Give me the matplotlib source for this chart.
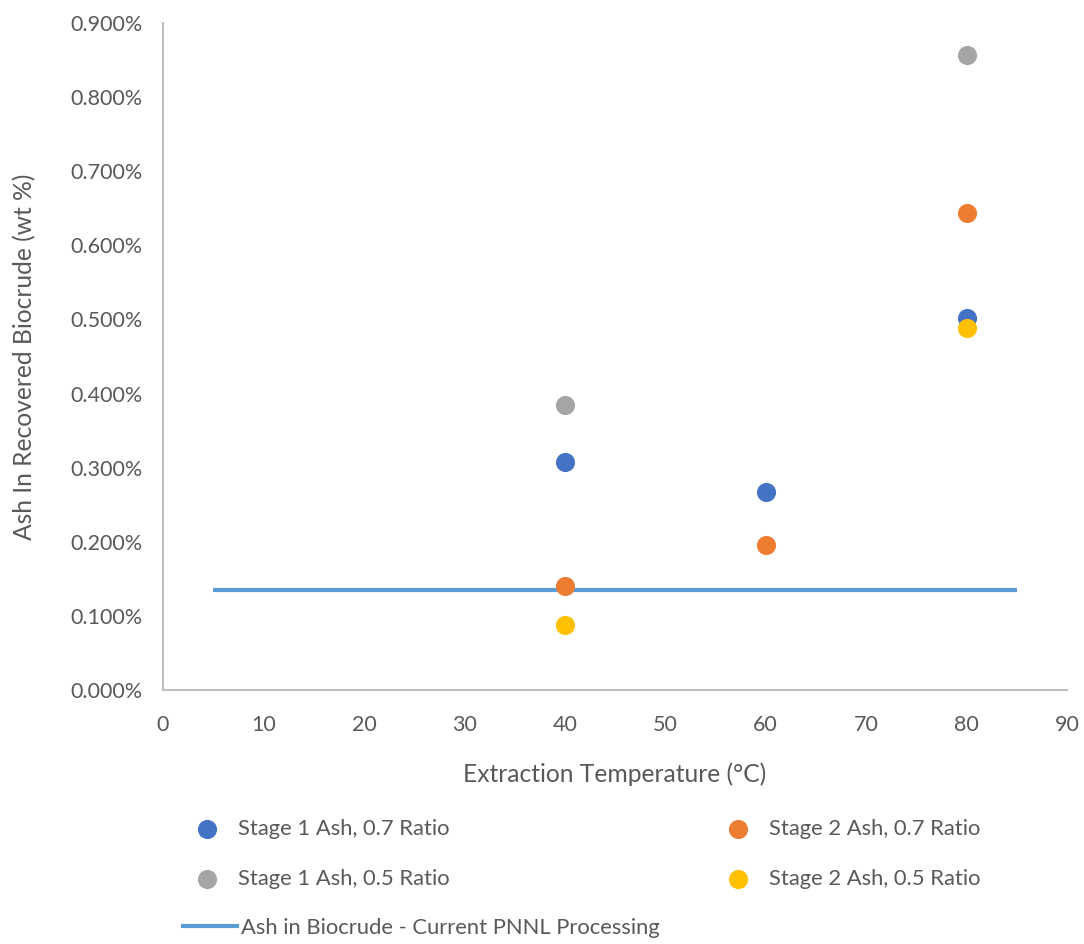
import matplotlib.pyplot as plt
from matplotlib.ticker import FuncFormatter
from matplotlib.lines import Line2D

plt.rcParams['font.family'] = ['Lato', 'DejaVu Sans']

# extraction temperatures (degC) and ash content (wt %)
temp_s1_07 = [40, 60, 80]
ash_s1_07 = [0.308, 0.267, 0.502]
temp_s2_07 = [40, 60, 80]
ash_s2_07 = [0.140, 0.196, 0.644]
temp_s1_05 = [40, 80]
ash_s1_05 = [0.384, 0.857]
temp_s2_05 = [40, 80]
ash_s2_05 = [0.087, 0.489]

# current PNNL processing reference
pnnl_temp = [5, 85]
pnnl_ash = [0.135, 0.135]

labels = ['Stage 1 Ash, 0.7 Ratio', 'Stage 2 Ash, 0.7 Ratio',
          'Stage 1 Ash, 0.5 Ratio', 'Stage 2 Ash, 0.5 Ratio']
colors = ['#4472C4', '#ED7D31', '#A5A5A5', '#FFC000']
line_label = 'Ash in Biocrude - Current PNNL Processing'

text_col = '#595959'
axis_col = '#BFBFBF'
fs = 15.8

fig = plt.figure(figsize=(10.84, 9.44), dpi=100)
ax = fig.add_axes([0.1504, 0.2691, 0.8339, 0.7065])

series = [(temp_s1_07, ash_s1_07), (temp_s2_07, ash_s2_07),
          (temp_s1_05, ash_s1_05), (temp_s2_05, ash_s2_05)]
handles = []
for (x, y), c, lab in zip(series, colors, labels):
    h = ax.scatter(x, y, s=190, color=c, label=lab, zorder=3, linewidths=0)
    handles.append(h)

ax.plot(pnnl_temp, pnnl_ash, color='#5B9BD5', lw=3, solid_capstyle='butt',
        label=line_label, zorder=2)

ax.set_xlim(0, 90)
ax.set_ylim(0, 0.9)
ax.set_xticks(range(0, 91, 10))
ax.set_yticks([i / 10 for i in range(10)])
ax.yaxis.set_major_formatter(FuncFormatter(lambda v, p: f'{v:.3f}%'))
ax.tick_params(length=0, labelsize=15.5, colors=text_col)
ax.tick_params(axis='y', pad=15)
ax.tick_params(axis='x', pad=18)

for s in ['top', 'right']:
    ax.spines[s].set_visible(False)
for s in ['left', 'bottom']:
    ax.spines[s].set_color(axis_col)
    ax.spines[s].set_linewidth(1.5)

ax.set_xlabel('Extraction Temperature (°C)', fontsize=17.7, color=text_col, labelpad=20)
ax.set_ylabel('Ash In Recovered Biocrude (wt %)', fontsize=17.7, color=text_col, labelpad=24)

# legend: two columns of scatter series, reference line underneath
leg_kw = dict(loc='center left', frameon=False, fontsize=fs, labelcolor=text_col,
              borderpad=0, handlelength=1.4, handletextpad=0.7,
              labelspacing=1.37, scatterpoints=1)
leg1 = fig.legend(handles=[handles[0], handles[2]], labels=[labels[0], labels[2]],
                  bbox_to_anchor=(0.1666, 0.0953), **leg_kw)
leg2 = fig.legend(handles=[handles[1], handles[3]], labels=[labels[1], labels[3]],
                  bbox_to_anchor=(0.6565, 0.0953), **leg_kw)
leg3 = fig.legend(handles=[Line2D([0], [0], color='#5B9BD5', lw=3)],
                  labels=[line_label], loc='center left', borderpad=0,
                  bbox_to_anchor=(0.1586, 0.017), frameon=False, fontsize=fs,
                  labelcolor=text_col, handlelength=2.45, handletextpad=0.18)

fig.savefig('out.png', dpi=100)
